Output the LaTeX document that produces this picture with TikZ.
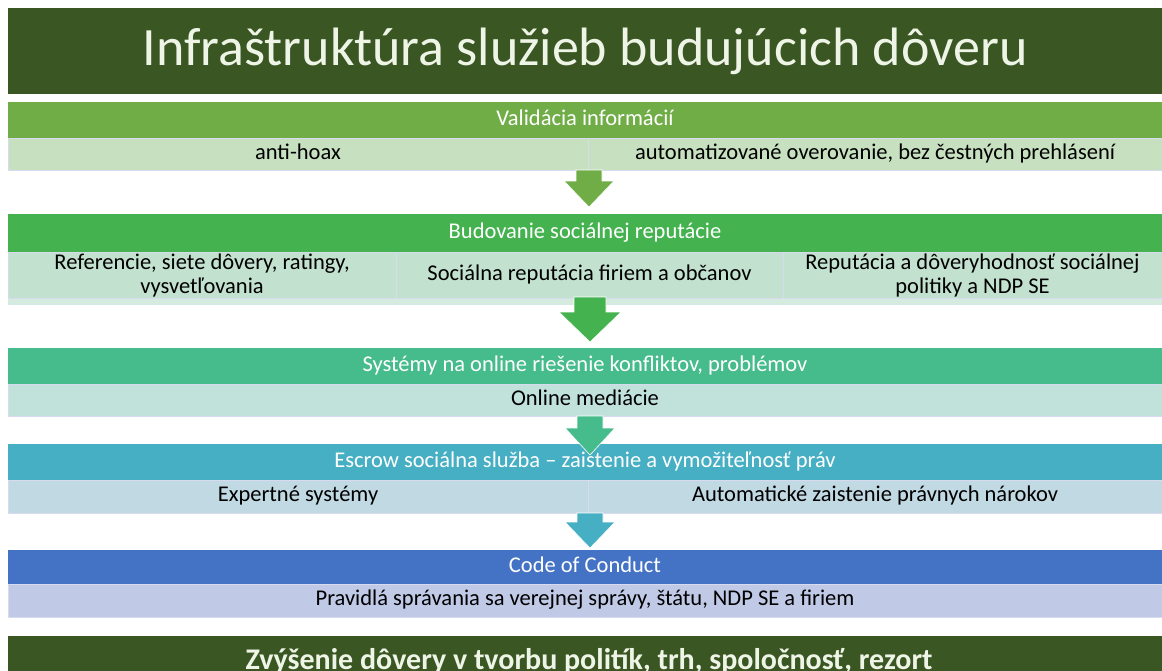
\documentclass[tikz,border=0pt]{standalone}
\usepackage{fontspec}
\setmainfont{Carlito}
\usetikzlibrary{positioning}

\definecolor{titlegreen}{HTML}{3A5723}
\definecolor{titletext}{HTML}{EEF4E6}
\definecolor{hdrA}{HTML}{70AD47}
\definecolor{subA}{HTML}{C7E0C0}
\definecolor{hdrB}{HTML}{44B24F}
\definecolor{subB}{HTML}{C2E1CF}
\definecolor{stripB}{HTML}{D6EBDF}
\definecolor{hdrC}{HTML}{46BB8B}
\definecolor{subC}{HTML}{C0E2DA}
\definecolor{hdrD}{HTML}{46AFC3}
\definecolor{subD}{HTML}{C1D9E3}
\definecolor{hdrE}{HTML}{4472C4}
\definecolor{subE}{HTML}{C0C9E6}
\definecolor{cellline}{HTML}{D8DAF0}

\tikzset{
	band/.style={anchor=north west, inner sep=0pt, outer sep=0pt, minimum width=1154pt},
	oneline/.style={text height=15pt, text depth=5pt},
	header/.style={band, oneline, minimum height=36pt, text=white, font=\fontsize{22.5}{24}\selectfont},
	cell/.style={anchor=north west, inner sep=0pt, outer sep=0pt, draw=cellline, line width=0.8pt,
		align=center, font=\fontsize{22.5}{24}\selectfont},
	blockarrow/.style={draw=white, line width=0.6pt}
}

\begin{document}
\begin{tikzpicture}[x=1pt,y=-1pt]
	\useasboundingbox (0,0) rectangle (1162,670);

	% title
	\node[band, fill=titlegreen, minimum height=86pt, text=titletext,
		font=\fontsize{54}{60}\selectfont] (title) at (8,8) {Infraštruktúra služieb budujúcich dôveru};

	% validacia
	\node[header, fill=hdrA] (valid) at (8,102) {Validácia informácií};
	\node[cell, oneline, fill=subA, minimum width=580pt, minimum height=32pt] (hoax) at (8,138) {anti-hoax};
	\node[cell, oneline, fill=subA, minimum width=574pt, minimum height=32pt] (auto) at (588,138)
		{automatizované overovanie, bez čestných prehlásení};

	% reputacia
	\node[header, fill=hdrB, minimum height=38pt] (reput) at (8,214) {Budovanie sociálnej reputácie};
	\fill[stripB] (8,296) rectangle (1162,305);
	\node[cell, fill=subB, minimum width=388pt, minimum height=46pt] (refer) at (8,252)
		{Referencie, siete dôvery, ratingy,\\vysvetľovania};
	\node[cell, oneline, fill=subB, minimum width=387pt, minimum height=46pt] (firms) at (396,252)
		{Sociálna reputácia firiem a občanov};
	\node[cell, fill=subB, minimum width=379pt, minimum height=46pt] (policy) at (783,252)
		{Reputácia a dôveryhodnosť sociálnej\\politiky a NDP SE};

	% konflikty
	\node[header, fill=hdrC] (konfl) at (8,348) {Systémy na online riešenie konfliktov, problémov};
	\node[cell, oneline, fill=subC, minimum width=1154pt, minimum height=32pt] (media) at (8,384) {Online mediácie};

	% escrow
	\node[header, fill=hdrD] (escrow) at (8,444) {Escrow sociálna služba -- zaistenie a vymožiteľnosť práv};
	\node[cell, oneline, fill=subD, minimum width=580pt, minimum height=33pt] (expert) at (8,480) {Expertné systémy};
	\node[cell, oneline, fill=subD, minimum width=574pt, minimum height=33pt] (claims) at (588,480)
		{Automatické zaistenie právnych nárokov};

	% code of conduct
	\node[header, fill=hdrE, minimum height=34pt] (code) at (8,550) {Code of Conduct};
	\node[cell, oneline, fill=subE, minimum width=1154pt, minimum height=33pt] (rules) at (8,584)
		{Pravidlá správania sa verejnej správy, štátu, NDP SE a firiem};

	% result
	\node[band, fill=titlegreen, minimum height=50pt] (result) at (8,636) {};
	\node[text=titletext, font=\bfseries\fontsize{30}{34}\selectfont, anchor=base] (resulttext) at (589,669)
		{Zvýšenie dôvery v tvorbu politík, trh, spoločnosť, rezort};

	% arrows: shaft half width, head half width, x, top, head start, tip
	\foreach \c/\s/\h/\x/\t/\m/\b in {hdrA/13/25/589/170/181/207, hdrB/16/31/590/297/312/342,
			hdrC/13/25/590/416/428/455, hdrD/13/25/590/513/522/548} {
			\filldraw[fill=\c, blockarrow] (\x-\s,\t) -- (\x+\s,\t) -- (\x+\s,\m) -- (\x+\h,\m)
				-- (\x,\b) -- (\x-\h,\m) -- (\x-\s,\m) -- cycle;
		}
\end{tikzpicture}
\end{document}
